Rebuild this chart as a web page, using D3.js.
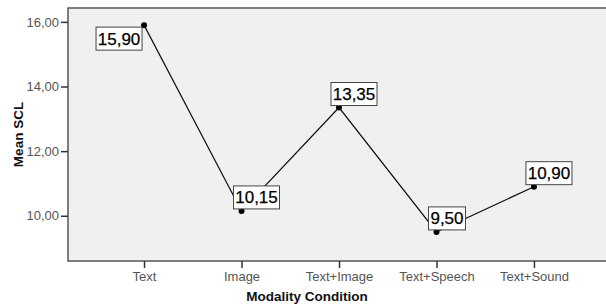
<!DOCTYPE html>
<meta charset="utf-8">
<style>
body { margin: 0; background: #fff; }
svg { display: block; font-family: Arial, "Liberation Sans", sans-serif; }
.axis path { display: none; }
.axis line { stroke: #333; stroke-width: 1.5; }
.axis text { fill: #555; font-size: 13px; }
.title { font-size: 13.5px; font-weight: bold; fill: #111; }
.frame { fill: #f0f0f0; stroke: #555; stroke-width: 1.5; }
.line { fill: none; stroke: #111; stroke-width: 1.2; }
.lbl rect { fill: #fff; stroke: #444; stroke-width: 1; }
.lbl text { font-size: 17px; fill: #000; stroke: #000; stroke-width: 0.25; }
</style>
<svg width="606" height="305"></svg>
<script src="https://d3js.org/d3.v7.min.js"></script>
<script>

var categories = ["Text", "Image", "Text+Image", "Text+Speech", "Text+Sound"];
var values = [15.90, 10.15, 13.35, 9.50, 10.90];
var yTicks = [10, 12, 14, 16];

var svg = d3.select("svg"),
    margin = {top: 8, left: 68, bottom: 44},
    width = 610 - margin.left,
    height = 305 - margin.top - margin.bottom;

var g = svg.append("g")
    .attr("transform", "translate(" + margin.left + "," + margin.top + ")");

var x = d3.scalePoint()
    .domain(categories)
    .range([0, width])
    .padding(0.78);

var y = d3.scaleLinear()
    .domain([8.6, 16.43])
    .range([height, 0]);

g.append("rect")
    .attr("class", "frame")
    .attr("width", width + 20)
    .attr("height", height);

g.append("g")
    .attr("class", "axis")
    .call(d3.axisLeft(y).tickValues(yTicks).tickSize(7).tickPadding(2)
      .tickFormat(function(d) { return d3.format(".2f")(d).replace(".", ","); }));

g.append("g")
    .attr("class", "axis")
    .attr("transform", "translate(0," + height + ")")
    .call(d3.axisBottom(x).tickSize(7).tickPadding(4));

var pts = categories.map(function(c, i) { return [x(c), y(values[i])]; });

g.append("path")
    .attr("class", "line")
    .attr("d", d3.line()(pts));

g.selectAll(".dot")
    .data(pts)
  .enter().append("circle")
    .attr("class", "dot")
    .attr("cx", function(d) { return d[0]; })
    .attr("cy", function(d) { return d[1]; })
    .attr("r", 3);

var lbl = g.selectAll(".lbl")
    .data(values)
  .enter().append("g")
    .attr("class", "lbl");

lbl.each(function(v, i) {
  var s = d3.select(this),
      txt = v.toFixed(2).replace(".", ","),
      bw = txt.length * 9 + 1,
      bh = 23,
      px = pts[i][0], py = pts[i][1],
      bx = px - 8, by = py - 2 - bh;
  if (by < 0) { bx = px - 2 - bw; by = py + 2; }
  s.append("rect").attr("x", bx).attr("y", by).attr("width", bw).attr("height", bh);
  s.append("text").attr("x", bx + bw / 2).attr("y", by + 17.5)
    .attr("text-anchor", "middle").text(txt);
});

svg.append("text")
    .attr("class", "title")
    .attr("text-anchor", "middle")
    .attr("transform", "translate(23," + (margin.top + height / 2) + ") rotate(-90)")
    .text("Mean SCL");

svg.append("text")
    .attr("class", "title")
    .attr("text-anchor", "middle")
    .attr("x", 307)
    .attr("y", 301)
    .text("Modality Condition");

</script>
